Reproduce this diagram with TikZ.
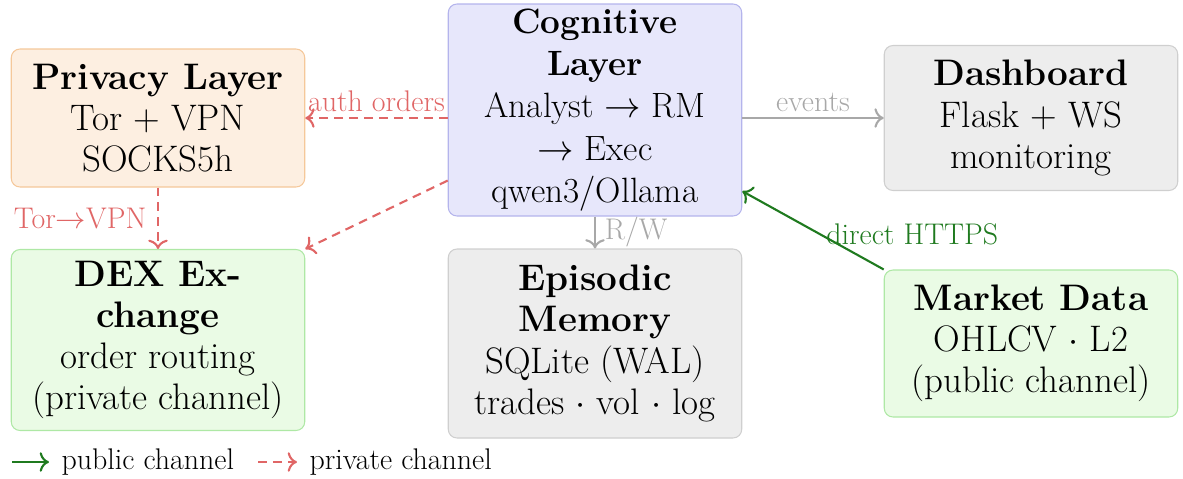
\documentclass[tikz,border=0pt]{standalone}
\usepackage{xcolor}
\usepackage{amsmath}
\usepackage{tikz}
\usetikzlibrary{positioning,arrows.meta}

\definecolor{privfill}{HTML}{FDEFE1}
\definecolor{privline}{HTML}{F5C89A}
\definecolor{cogfill}{HTML}{E7E7FB}
\definecolor{cogline}{HTML}{B4B4EC}
\definecolor{memfill}{HTML}{EDEDED}
\definecolor{memline}{HTML}{CFCFCF}
\definecolor{dexfill}{HTML}{EAFBE5}
\definecolor{dexline}{HTML}{AEE8A5}
\definecolor{privred}{HTML}{E06666}
\definecolor{pubgreen}{HTML}{1F7A1F}
\definecolor{flowgray}{HTML}{A8A8A8}

\begin{document}
\begin{tikzpicture}[
    >={To[scale=1.25]},
    layerbox/.style={draw, rounded corners=5pt, line width=0.6pt, align=center,
        minimum width=5.87cm, inner sep=2pt, font=\fontsize{21}{23.5}\selectfont},
    edgelabel/.style={font=\fontsize{17}{20}\selectfont, inner sep=3pt},
    privlink/.style={->, privred, line width=1.2pt, dash pattern=on 5pt off 3.5pt},
    publink/.style={->, pubgreen, line width=1.2pt},
    flowlink/.style={->, flowgray, line width=1.2pt}]
\useasboundingbox (0,0) rectangle (23.66,-9.58);

\node[layerbox, fill=privfill, draw=privline, minimum height=2.76cm] (privacy) at (3.16,-2.36)
    {\textbf{Privacy Layer}\\Tor + VPN\\SOCKS5h};
\node[layerbox, fill=cogfill, draw=cogline, minimum height=4.24cm,
    font=\fontsize{20}{24}\selectfont] (cognitive) at (11.9,-2.2)
    {\textbf{Cognitive}\\\textbf{Layer}\\Analyst $\rightarrow$ RM\\$\rightarrow$ Exec\\qwen3/Ollama};
\node[layerbox, fill=memfill, draw=memline, minimum height=2.9cm] (dashboard) at (20.62,-2.36)
    {\textbf{Dashboard}\\Flask + WS\\monitoring};
\node[layerbox, fill=dexfill, draw=dexline, minimum height=3.62cm] (dex) at (3.16,-6.8)
    {\textbf{DEX Ex-}\\\textbf{change}\\order routing\\(private channel)};
\node[layerbox, fill=memfill, draw=memline, minimum height=3.78cm] (memory) at (11.9,-6.87)
    {\textbf{Episodic}\\\textbf{Memory}\\SQLite (WAL)\\trades $\cdot$ vol $\cdot$ log};
\node[layerbox, fill=dexfill, draw=dexline, minimum height=2.94cm] (market) at (20.62,-6.87)
    {\textbf{Market Data}\\OHLCV $\cdot$ L2\\(public channel)};

% links between layers
\draw[privlink] (cognitive.west |- privacy.east) -- node[edgelabel, above] {auth orders} (privacy.east);
\draw[privlink] (cognitive) -- (dex.north east);
\draw[privlink] (privacy) -- node[edgelabel, left, xshift=-3pt] {Tor$\rightarrow$VPN} (dex);
\draw[flowlink] (cognitive.east |- dashboard.west) -- node[edgelabel, above] {events} (dashboard.west);
\draw[flowlink] (cognitive) -- node[edgelabel, right, xshift=2pt] {R/W} (memory);
\draw[publink] (market.north west) -- node[edgelabel, right, pos=0.45] {direct HTTPS} (cognitive);

% legend
\coordinate (pubstart) at (0.24,-9.24);
\node[edgelabel, anchor=west] (pubtext) at (1.12,-9.24) {public channel};
\coordinate (privstart) at (5.16,-9.24);
\node[edgelabel, anchor=west] (privtext) at (6.08,-9.24) {private channel};
\draw[publink, shorten >=4pt] (pubstart) -- (pubtext.west);
\draw[privlink, shorten >=4pt] (privstart) -- (privtext.west);
\end{tikzpicture}
\end{document}
